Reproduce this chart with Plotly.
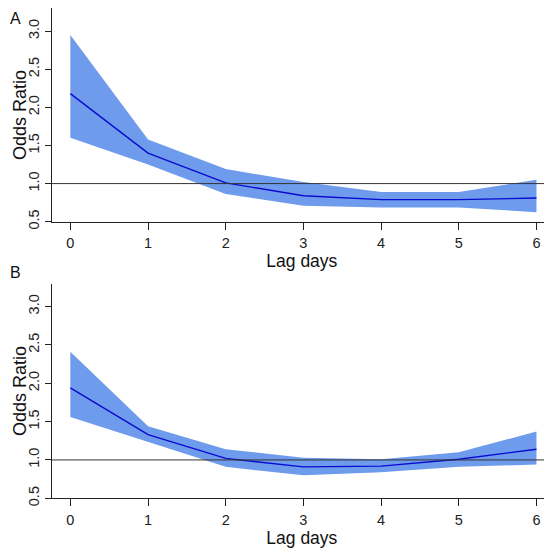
import plotly.graph_objects as go

lag_days = [0, 1, 2, 3, 4, 5, 6]

# panel A
or_a = [2.18, 1.40, 1.01, 0.84, 0.79, 0.79, 0.81]
upper_a = [2.95, 1.58, 1.19, 1.02, 0.89, 0.89, 1.05]
lower_a = [1.60, 1.25, 0.865, 0.71, 0.685, 0.685, 0.625]

# panel B
or_b = [1.94, 1.33, 1.02, 0.91, 0.92, 1.01, 1.14]
upper_b = [2.41, 1.44, 1.14, 1.03, 1.01, 1.10, 1.37]
lower_b = [1.56, 1.23, 0.91, 0.80, 0.84, 0.91, 0.94]

y_ticks = [0.5, 1.0, 1.5, 2.0, 2.5, 3.0]
band_color = "#6E9BEC"
line_color = "#0A0ACF"
font = "Liberation Sans, Arial, sans-serif"

# the page body adds an 8px margin, so the figure is drawn a bit smaller
W = 544

fig = go.Figure()

panels = [
    ("x", "y", upper_a, lower_a, or_a),
    ("x2", "y2", upper_b, lower_b, or_b),
]
for xa, ya, up, lo, mid in panels:
    fig.add_trace(go.Scatter(x=lag_days, y=up, mode="lines", line=dict(width=0),
                             xaxis=xa, yaxis=ya, showlegend=False, hoverinfo="skip"))
    fig.add_trace(go.Scatter(x=lag_days, y=lo, mode="lines", line=dict(width=0),
                             fill="tonexty", fillcolor=band_color,
                             xaxis=xa, yaxis=ya, showlegend=False, hoverinfo="skip"))
    fig.add_trace(go.Scatter(x=lag_days, y=mid, mode="lines",
                             line=dict(color=line_color, width=1.4),
                             xaxis=xa, yaxis=ya, showlegend=False))
    fig.add_shape(type="line", xref=f"{xa} domain", yref=ya, x0=0, x1=1, y0=1, y1=1,
                  line=dict(color="#333333", width=1))

xaxis_style = dict(
    range=[-0.24, 6.2], tickvals=lag_days, showline=True, linecolor="#222222",
    linewidth=1, ticks="outside", ticklen=7, tickcolor="#222222", showgrid=False,
    zeroline=False, tickfont=dict(size=14.5, color="#222222"), automargin=False,
    ticklabelstandoff=1,
    title=dict(text="Lag days", font=dict(size=17.5, color="#111111"), standoff=0),
    domain=[43.7 / W, 1],
)
yaxis_style = dict(
    range=[0.5, 3.3], tickvals=y_ticks, ticktext=[f"{v:.1f}" for v in y_ticks],
    showline=True, linecolor="#222222", linewidth=1, ticks="outside", ticklen=6,
    tickcolor="#222222", showgrid=False, zeroline=False, tickangle=-90,
    tickfont=dict(size=14.5, color="#222222"), automargin=False,
)

y_title = dict(text="Odds Ratio", x=0, xref="paper", yref="paper", textangle=-90,
               showarrow=False, xanchor="left", yanchor="middle",
               font=dict(size=18, color="#111111"))

fig.update_layout(
    width=W, height=W,
    margin=dict(l=0, r=0, t=0, b=0),
    plot_bgcolor="white", paper_bgcolor="white",
    font=dict(family=font),
    xaxis=dict(xaxis_style, anchor="y"),
    yaxis=dict(yaxis_style, domain=[1 - 213.7 / W, 1 - 0.3 / W], anchor="x"),
    xaxis2=dict(xaxis_style, anchor="y2"),
    yaxis2=dict(yaxis_style, domain=[1 - 490.3 / W, 1 - 275.5 / W], anchor="x2"),
    annotations=[
        dict(y_title, y=1 - 107 / W),
        dict(y_title, y=1 - 383 / W),
        dict(text="A", x=0, y=1, xref="paper", yref="paper",
             showarrow=False, xanchor="left", yanchor="top",
             font=dict(size=16, color="#111111")),
        dict(text="B", x=0, y=1 - 264 / W, xref="paper", yref="paper",
             showarrow=False, xanchor="left", yanchor="middle",
             font=dict(size=16, color="#111111")),
    ],
)

fig.write_html("out.html")
